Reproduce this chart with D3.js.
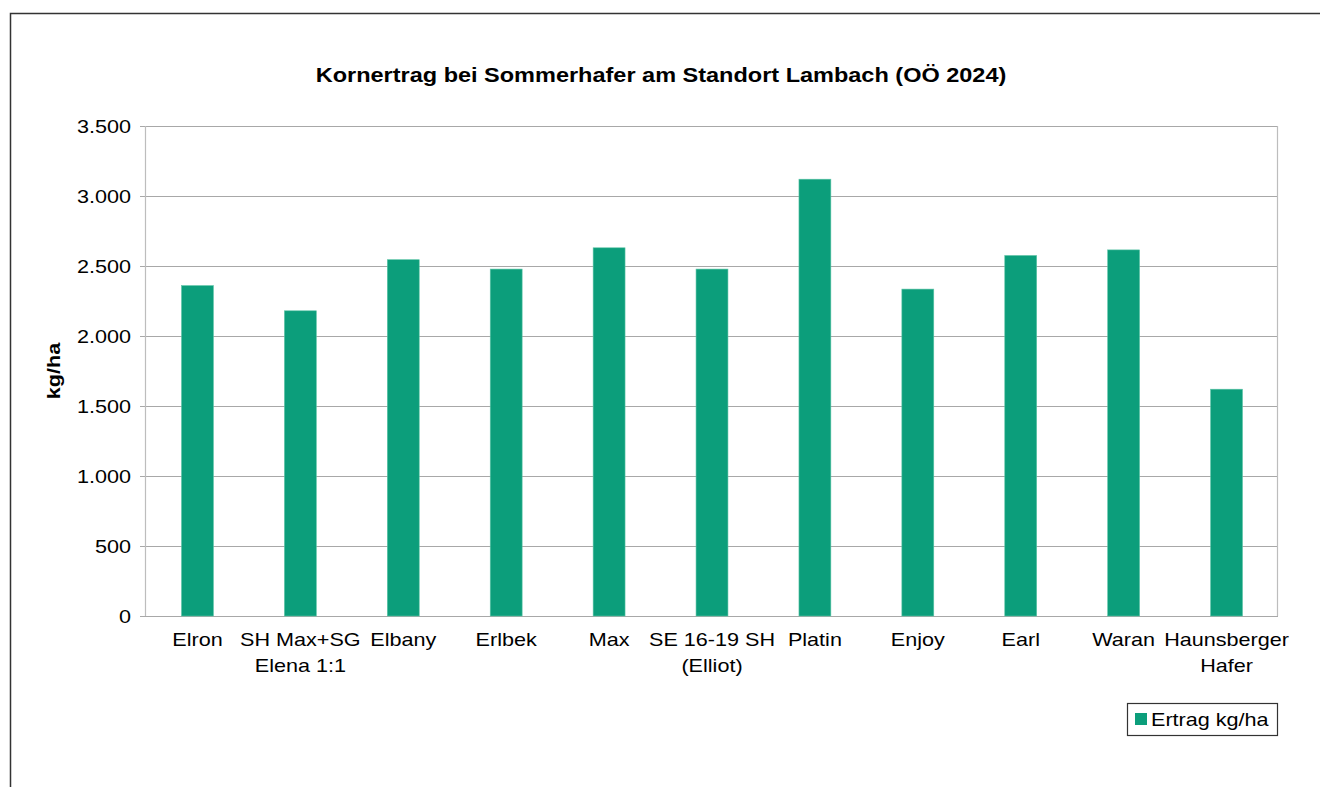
<!DOCTYPE html>
<html>
<head>
<meta charset="utf-8">
<script src="https://cdn.jsdelivr.net/npm/d3@7"></script>
<style>
  body { margin: 0; background: #fff; }
  svg { display: block; font-family: "Liberation Sans", Arial, sans-serif; }
</style>
</head>
<body>
<div id="chart"></div>
<script>
var categories = ["Elron", "SH Max+SG\nElena 1:1", "Elbany", "Erlbek", "Max", "SE 16-19 SH\n(Elliot)", "Platin", "Enjoy", "Earl", "Waran", "Haunsberger\nHafer"]
var values = [2360, 2180, 2545, 2478, 2630, 2478, 3120, 2335, 2575, 2615, 1620]
var yTicks = [0, 500, 1000, 1500, 2000, 2500, 3000, 3500]
var seriesName = "Ertrag kg/ha"

const width = 1320, height = 787
const plot = { left: 146, right: 1278, top: 126, bottom: 616 }
const stretch = 1.2   // the original font is wider than Arial
const fmt = d3.format(",")
const de = v => fmt(v).replace(/,/g, ".")

const svg = d3.select("#chart").append("svg")
    .attr("width", width)
    .attr("height", height)

// wide text: placed at (x, y) and stretched horizontally
function wideText(parent, x, y, rot, s) {
    return parent.append("text")
        .attr("transform", `translate(${x}, ${y})` + (rot ? ` rotate(${rot})` : "") + ` scale(${s || stretch}, 1)`)
}

// outer frame (runs off the right and bottom edges)
svg.append("rect")
    .attr("x", 10.5).attr("y", 13.5)
    .attr("width", width).attr("height", height)
    .attr("fill", "none").attr("stroke", "#333").attr("stroke-width", 1.5)

wideText(svg, 661, 82, 0, 1.175)
    .attr("text-anchor", "middle")
    .attr("font-weight", "bold").attr("font-size", 20)
    .text("Kornertrag bei Sommerhafer am Standort Lambach (OÖ 2024)")

const x = d3.scaleBand().domain(categories).range([plot.left, plot.right]).paddingInner(0.69).paddingOuter(0.345)
const y = d3.scaleLinear().domain([0, 3500]).range([plot.bottom, plot.top])

// grid
svg.append("g")
    .selectAll("line")
    .data(yTicks)
    .enter().append("line")
        .attr("x1", plot.left - 6).attr("x2", plot.right)
        .attr("y1", d => Math.round(y(d)) + 0.5).attr("y2", d => Math.round(y(d)) + 0.5)
        .attr("stroke", "#a8a8a8").attr("stroke-width", 1.2)

svg.append("line")
    .attr("x1", plot.left - 0.5).attr("x2", plot.left - 0.5)
    .attr("y1", plot.top).attr("y2", plot.bottom)
    .attr("stroke", "#bdbdbd").attr("stroke-width", 1.2)
svg.append("line")
    .attr("x1", plot.right - 0.5).attr("x2", plot.right - 0.5)
    .attr("y1", plot.top).attr("y2", plot.bottom)
    .attr("stroke", "#bdbdbd").attr("stroke-width", 1.2)

const yl = svg.append("g")
yTicks.forEach(t => {
    wideText(yl, plot.left - 15, y(t) + 6.5)
        .attr("text-anchor", "end").attr("font-size", 18)
        .text(de(t))
})

wideText(svg, 60, (plot.top + plot.bottom) / 2, -90)
    .attr("text-anchor", "middle")
    .attr("font-weight", "bold").attr("font-size", 18)
    .text("kg/ha")

// bars
svg.append("g")
    .selectAll("rect")
    .data(values)
    .enter().append("rect")
        .attr("x", (d, i) => x(categories[i]))
        .attr("y", d => y(d))
        .attr("width", x.bandwidth())
        .attr("height", d => y(0) - y(d))
        .attr("fill", "#0c9e7b")
        .attr("stroke", "#5cc4a6").attr("stroke-width", 0.6)

// category labels
const cl = svg.append("g")
categories.forEach(c => {
    const t = wideText(cl, x(c) + x.bandwidth() / 2, 646)
        .attr("text-anchor", "middle").attr("font-size", 18)
    c.split("\n").forEach((line, i) => {
        t.append("tspan").attr("x", 0).attr("y", i * 26).text(line)
    })
})

// legend
const lg = svg.append("g")
lg.append("rect")
    .attr("x", 1127.5).attr("y", 703.5).attr("width", 150).attr("height", 32)
    .attr("fill", "#fff").attr("stroke", "#333").attr("stroke-width", 1.2)
lg.append("rect")
    .attr("x", 1135).attr("y", 713).attr("width", 12).attr("height", 12)
    .attr("fill", "#0c9e7b")
wideText(lg, 1151, 726).attr("font-size", 18)
    .text(seriesName)
</script>
</body>
</html>
